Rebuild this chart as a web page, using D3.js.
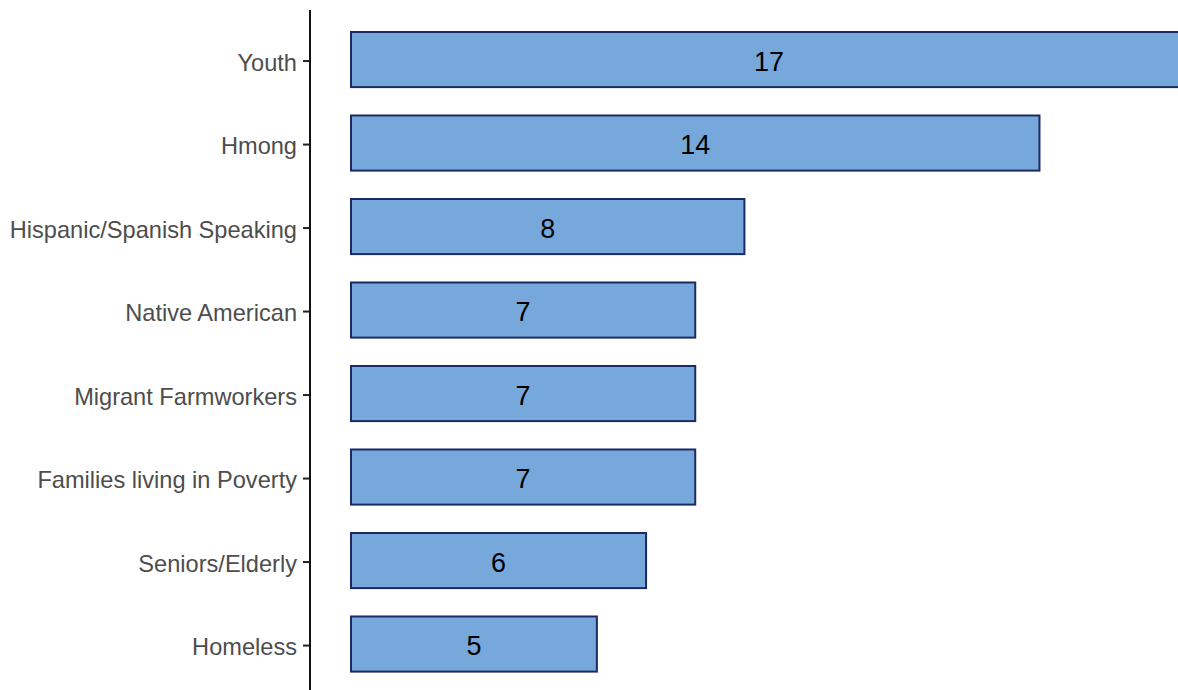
<!DOCTYPE html>
<html lang="en">
<head>
    <meta charset="UTF-8">
    <script src="https://d3js.org/d3.v7.min.js"></script>
    <style>
        body { margin: 0; background: #fff; }
        .bar { fill: #76a8dc; stroke: #1d2a62; stroke-width: 2; }
        .tick text { font-family: "Liberation Sans", Arial, sans-serif; font-size: 23.6px; fill: #4d4d4d; }
        .val { font-family: "Liberation Sans", Arial, sans-serif; font-size: 27px; fill: #000; }
    </style>
</head>
<body>
    <div id="chart"></div>
    <script>
        const groups = ['Youth', 'Hmong', 'Hispanic/Spanish Speaking', 'Native American',
            'Migrant Farmworkers', 'Families living in Poverty', 'Seniors/Elderly', 'Homeless'];
        const counts = [17, 14, 8, 7, 7, 7, 6, 5];

        var width = 1178;
        var height = 690;

        var svg = d3.select("#chart")
            .append("svg")
            .attr("width", width)
            .attr("height", height);

        var xScale = d3.scaleLinear().domain([0, 17]).range([351, 1187]),
            yScale = d3.scaleBand().domain(groups).range([17.8, 685.8])
                .paddingInner(0.34).paddingOuter(0.17);

        var yAxis = svg.append("g")
            .attr("transform", "translate(310,1.5)")
            .call(d3.axisLeft(yScale).tickSize(7).tickSizeOuter(0).tickPadding(6));
        yAxis.select(".domain").remove();
        yAxis.selectAll(".tick line").attr("stroke", "#222").attr("stroke-width", 2);
        yAxis.selectAll(".tick text").attr("dy", "0.4em");

        // axis line runs the full height
        svg.append("line")
            .attr("x1", 310).attr("x2", 310)
            .attr("y1", 10).attr("y2", height)
            .attr("stroke", "#111")
            .attr("stroke-width", 2);

        svg.selectAll(".bar")
            .data(groups)
            .enter().append("rect")
            .attr("class", "bar")
            .attr("x", xScale(0))
            .attr("y", function(d) { return yScale(d); })
            .attr("width", function(d, i) { return xScale(counts[i]) - xScale(0); })
            .attr("height", yScale.bandwidth());

        svg.selectAll(".val")
            .data(groups)
            .enter().append("text")
            .attr("class", "val")
            .attr("x", function(d, i) { return (xScale(0) + xScale(counts[i])) / 2; })
            .attr("y", function(d) { return yScale(d) + yScale.bandwidth() / 2 + 1.5; })
            .attr("dy", "0.36em")
            .attr("text-anchor", "middle")
            .text(function(d, i) { return counts[i]; });
    </script>
</body>
</html>
